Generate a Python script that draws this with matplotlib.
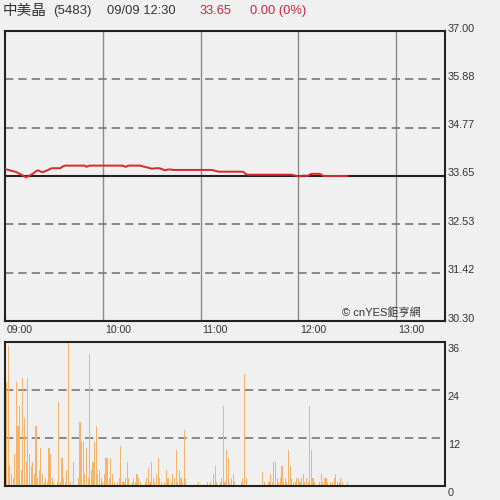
import matplotlib
matplotlib.use("Agg")
import matplotlib.pyplot as plt
from matplotlib.transforms import ScaledTranslation

plt.rcParams['font.family'] = ['Liberation Sans', 'Noto Sans CJK TC', 'DejaVu Sans']

# ---------------- data ----------------
stock_name = "中美晶"
stock_code = "(5483)"
stamp = "09/09 12:30"
last_price = "33.65"
change_text = "0.00 (0%)"
ref_price = 33.65

price_ticks = [37.00, 35.88, 34.77, 33.65, 32.53, 31.42, 30.30]
price_labels = ["37.00", "35.88", "34.77", "33.65", "32.53", "31.42", "30.30"]
vol_ticks = [36, 24, 12, 0]
vol_labels = ["36", "24", "12", "0"]
hour_minutes = [0, 60, 120, 180, 240]
hour_labels = ["09:00", "10:00", "11:00", "12:00", "13:00"]

# per-minute price from 09:00 to 12:30
price = [
    33.82, 33.80, 33.79, 33.78, 33.77, 33.76, 33.75, 33.74, 33.72, 33.70,
    33.68, 33.66, 33.64, 33.62, 33.64, 33.66, 33.68, 33.70, 33.73, 33.76,
    33.78, 33.77, 33.75, 33.74, 33.75, 33.77, 33.78, 33.80, 33.82, 33.83,
    33.83, 33.83, 33.83, 33.83, 33.83, 33.86, 33.88, 33.89, 33.89, 33.89,
    33.89, 33.89, 33.89, 33.89, 33.89, 33.89, 33.89, 33.89, 33.89, 33.89,
    33.86, 33.88, 33.89, 33.89, 33.89, 33.89, 33.89, 33.89, 33.89, 33.89,
    33.89, 33.89, 33.89, 33.89, 33.89, 33.89, 33.89, 33.89, 33.89, 33.89,
    33.89, 33.89, 33.89, 33.88, 33.86, 33.88, 33.89, 33.89, 33.89, 33.89,
    33.89, 33.89, 33.89, 33.89, 33.88, 33.87, 33.86, 33.85, 33.84, 33.83,
    33.82, 33.82, 33.83, 33.83, 33.83, 33.83, 33.81, 33.80, 33.78, 33.79,
    33.80, 33.80, 33.80, 33.79, 33.79, 33.79, 33.79, 33.79, 33.79, 33.79,
    33.79, 33.79, 33.79, 33.79, 33.79, 33.79, 33.79, 33.79, 33.79, 33.79,
    33.79, 33.79, 33.79, 33.79, 33.79, 33.79, 33.79, 33.79, 33.78, 33.77,
    33.76, 33.75, 33.75, 33.75, 33.75, 33.75, 33.75, 33.75, 33.75, 33.75,
    33.75, 33.75, 33.75, 33.75, 33.75, 33.75, 33.75, 33.72, 33.69, 33.68,
    33.68, 33.68, 33.68, 33.68, 33.68, 33.68, 33.68, 33.68, 33.68, 33.68,
    33.68, 33.68, 33.68, 33.68, 33.68, 33.68, 33.68, 33.68, 33.68, 33.68,
    33.68, 33.68, 33.68, 33.68, 33.68, 33.68, 33.68, 33.67, 33.66, 33.65,
    33.64, 33.64, 33.65, 33.66, 33.66, 33.65, 33.66, 33.68, 33.70, 33.70,
    33.70, 33.70, 33.70, 33.70, 33.68, 33.66, 33.65, 33.65, 33.65, 33.65,
    33.65, 33.65, 33.65, 33.65, 33.65, 33.65, 33.65, 33.65, 33.65, 33.65,
    33.65,
]

# per-minute volume from 09:00 to 12:30
volume = [
    36, 26, 35, 5, 3, 2, 8, 26, 15, 20,
    4, 27, 17, 6, 27, 8, 5, 6, 3, 15,
    2, 4, 9.5, 3, 1, 2, 1, 9.5, 8, 2,
    1, 0, 1, 21, 1, 7, 2, 1, 4, 36,
    1, 0, 6, 0, 0, 2, 16, 11, 11, 3,
    9.5, 2, 33, 4, 6, 11, 15, 3, 4, 2,
    1, 3, 7, 7, 2, 7, 3, 1, 0, 1,
    2, 10, 1, 1, 2, 6, 2, 0, 1, 2,
    1, 3, 2, 1, 0, 0, 1, 2, 4.5, 1,
    6, 2, 1, 3, 7, 2, 1, 0, 1, 4,
    2, 0, 1, 3, 2, 9, 1, 4, 2, 1,
    14, 2, 0, 0, 0, 0, 0, 0, 0, 1,
    0, 0, 0, 0, 1, 0, 1, 0, 3, 5,
    1, 0, 1, 2, 20, 1, 9, 7, 1, 2,
    3, 1, 0, 0, 0, 1, 2, 28, 2, 0,
    0, 0, 0, 0, 0, 0, 0, 0, 3.5, 1,
    0, 0, 1, 3, 1, 6, 6, 2, 1, 2,
    5, 1, 2, 1, 9, 5, 2, 1, 1, 2,
    2, 1, 2, 3, 1, 2, 1, 20, 9, 2,
    1, 0, 0, 1, 3, 1, 2, 2, 1, 0,
    1, 1, 2, 3, 1, 1, 2, 1, 0, 0,
    1,
]
minutes = list(range(len(price)))

# ---------------- figure ----------------
BG = '#f0f0f0'
fig = plt.figure(figsize=(5, 5), dpi=100, facecolor=BG)
ax = fig.add_axes([0.01, 1 - 321 / 500, 0.88, 290 / 500], facecolor=BG)
ax2 = fig.add_axes([0.01, 1 - 486 / 500, 0.88, 144 / 500], facecolor=BG)

# --- price panel ---
ax.set_xlim(0, 270)
ax.set_ylim(30.30, 37.00)
for h in hour_minutes[1:]:
    ax.axvline(h, color='#8a8a8a', lw=1.0, zorder=1)
for p in price_ticks[1:-1]:
    if abs(p - ref_price) < 1e-6:
        ax.axhline(p, color='#222222', lw=1.5, zorder=2)
    else:
        ax.axhline(p, color='#777777', lw=1.2, ls=(0, (5, 3)), zorder=1)
ax.plot(minutes, price, color='#d8282c', lw=1.4, zorder=3)

ax.yaxis.tick_right()
ax.set_yticks(price_ticks, price_labels)
ax.set_xticks(hour_minutes, hour_labels)
ax.tick_params(axis='both', length=0, colors='#333333')
ax.tick_params(axis='y', labelsize=7.8, pad=2)
ax.tick_params(axis='x', labelsize=7.6, pad=3)
for lab in ax.get_xticklabels():
    lab.set_ha('left')
    lab.set_transform(lab.get_transform() + ScaledTranslation(0.02, 0, fig.dpi_scale_trans))
for lab in ax.get_yticklabels():
    lab.set_transform(lab.get_transform() + ScaledTranslation(0, 0.035, fig.dpi_scale_trans))
for s in ax.spines.values():
    s.set_color('#222222')
    s.set_linewidth(1.5)

ax.text(0.945, 0.012, "© cnYES鉅亨網", transform=ax.transAxes, ha='right', va='bottom',
        fontsize=8, color='#333333', family=['Liberation Sans', 'Noto Sans CJK TC'])

# --- volume panel ---
ax2.set_xlim(0, 270)
ax2.set_ylim(0, 36)
for v in vol_ticks[1:-1]:
    ax2.axhline(v, color='#777777', lw=1.2, ls=(0, (5, 3)), zorder=1)
ax2.bar(minutes, volume, width=0.7, color='#f5b46c', linewidth=0, zorder=2)
ax2.yaxis.tick_right()
ax2.set_yticks(vol_ticks, vol_labels)
ax2.set_xticks([])
ax2.tick_params(axis='y', length=0, labelsize=7.8, pad=2, colors='#333333')
for lab in ax2.get_yticklabels():
    lab.set_transform(lab.get_transform() + ScaledTranslation(0, -0.06, fig.dpi_scale_trans))
for s in ax2.spines.values():
    s.set_color('#222222')
    s.set_linewidth(1.5)

# --- header ---
fig.text(3 / 500, 1 - 11 / 500, stock_name, fontsize=10.5, color='#333333', va='center',
         family=['Noto Sans CJK TC', 'DejaVu Sans'])
fig.text(53 / 500, 1 - 11 / 500, stock_code, fontsize=9.5, color='#333333', va='center')
fig.text(107 / 500, 1 - 11 / 500, stamp, fontsize=9.3, color='#333333', va='center')
fig.text(200 / 500, 1 - 11 / 500, last_price, fontsize=9.3, color='#c8283c', va='center')
fig.text(250 / 500, 1 - 11 / 500, change_text, fontsize=9.3, color='#c8283c', va='center')

fig.savefig('out.png', dpi=100, facecolor=BG)
